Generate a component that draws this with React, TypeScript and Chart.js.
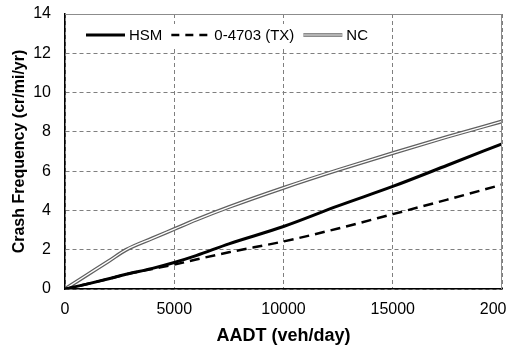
import React, { useEffect, useRef } from "react";
import { Chart, registerables } from "chart.js";

Chart.register(...registerables);

const AADT = [0, 1000, 2000, 2800, 4000, 5000, 6000, 7500, 10000, 12500, 15000, 17500, 20000];
const HSM = [0, 0.25, 0.52, 0.75, 1.05, 1.35, 1.7, 2.3, 3.18, 4.23, 5.22, 6.3, 7.39];
const TX = [0, 0.25, 0.52, 0.75, 1.02, 1.24, 1.5, 1.87, 2.42, 3.08, 3.81, 4.55, 5.31];
const NC = [0, 0.71, 1.42, 2.0, 2.58, 3.05, 3.52, 4.17, 5.15, 6.06, 6.92, 7.75, 8.53];
const LEGEND_LABELS = ["HSM", "0-4703 (TX)", "NC"];
const X_MIN = 0;
const X_MAX = 20000;
const X_STEP = 5000;
const Y_MIN = 0;
const Y_MAX = 14;
const Y_STEP = 2;

const FONT = "Arial, 'Liberation Sans', sans-serif";

const pts = (ys: number[]) => AADT.map((x, i) => ({ x, y: ys[i] }));

const frameAndLegend = {
  id: "frameAndLegend",
  afterDraw(chart: any) {
    const { ctx, chartArea } = chart;
    const { left, top, right, bottom } = chartArea;
    ctx.save();
    ctx.strokeStyle = "#8c8c8c";
    ctx.lineWidth = 1;
    ctx.setLineDash([]);
    ctx.beginPath();
    ctx.moveTo(left, top + 0.5);
    ctx.lineTo(right - 0.5, top + 0.5);
    ctx.lineTo(right - 0.5, bottom);
    ctx.stroke();

    const bx = left + 10;
    const by = top + 10;
    const cy = top + 21;
    ctx.fillStyle = "#ffffff";
    ctx.fillRect(bx, by, 300, 24);
    ctx.font = `15px ${FONT}`;
    ctx.textBaseline = "middle";
    ctx.textAlign = "left";
    let x = left + 21;
    const sample = 39;
    const styles = [
      { w: 3, dash: [] as number[], color: "#000" },
      { w: 2.5, dash: [8, 6], color: "#000" },
      { w: 3.5, dash: [] as number[], color: "#666", inner: true },
    ];
    LEGEND_LABELS.forEach((label, i) => {
      const s: any = styles[i];
      ctx.beginPath();
      ctx.setLineDash(s.dash);
      ctx.lineWidth = s.w;
      ctx.strokeStyle = s.color;
      ctx.moveTo(x, cy);
      ctx.lineTo(x + sample, cy);
      ctx.stroke();
      if (s.inner) {
        ctx.beginPath();
        ctx.lineWidth = 1.2;
        ctx.strokeStyle = "#fff";
        ctx.moveTo(x, cy);
        ctx.lineTo(x + sample, cy);
        ctx.stroke();
      }
      ctx.setLineDash([]);
      ctx.fillStyle = "#000";
      ctx.fillText(label, x + sample + 4, cy + 1);
      x += sample + 4 + ctx.measureText(label).width + 9;
    });
    ctx.restore();
  },
};

export default function App() {
  const ref = useRef<HTMLCanvasElement | null>(null);
  useEffect(() => {
    if (!ref.current) return;
    const chart = new Chart(ref.current, {
      type: "line",
      data: {
        datasets: [
          {
            label: LEGEND_LABELS[0],
            data: pts(HSM),
            borderColor: "#000",
            borderWidth: 3,
            pointRadius: 0,
            cubicInterpolationMode: "monotone",
            fill: false,
          },
          {
            label: LEGEND_LABELS[1],
            data: pts(TX),
            borderColor: "#000",
            borderWidth: 2.5,
            borderDash: [10, 6],
            pointRadius: 0,
            cubicInterpolationMode: "monotone",
            fill: false,
          },
          {
            label: LEGEND_LABELS[2] + " inner",
            data: pts(NC),
            borderColor: "#ffffff",
            borderWidth: 1.3,
            pointRadius: 0,
            cubicInterpolationMode: "monotone",
            fill: false,
          },
          {
            label: LEGEND_LABELS[2],
            data: pts(NC),
            borderColor: "#606060",
            borderWidth: 3.8,
            pointRadius: 0,
            cubicInterpolationMode: "monotone",
            fill: false,
          },
        ],
      },
      options: {
        animation: false,
        responsive: false,
        layout: { padding: { top: 14, left: 0, right: 22, bottom: 0 } },
        plugins: { legend: { display: false }, tooltip: { enabled: false } },
        scales: {
          x: {
            type: "linear",
            min: X_MIN,
            max: X_MAX,
            afterFit: (s: any) => { s.height = 58; s.paddingLeft = 0; s.paddingRight = 0; },
            ticks: { stepSize: X_STEP, color: "#000", font: { family: FONT, size: 16 }, padding: 11, maxRotation: 0, callback: (v: any) => String(v) },
            grid: { color: "#7f7f7f", lineWidth: 1, drawTicks: false, tickLength: 0 },
            border: { color: "#000", width: 1.5, dash: [4, 3] },
            title: { display: true, text: "AADT (veh/day)", color: "#000", font: { family: FONT, size: 18, weight: "bold" }, padding: { top: 2, bottom: 0 } },
          },
          y: {
            min: Y_MIN,
            max: Y_MAX,
            afterFit: (s: any) => { s.width = 65; s.paddingTop = 0; s.paddingBottom = 0; },
            ticks: { stepSize: Y_STEP, color: "#000", font: { family: FONT, size: 16 }, padding: 14 },
            grid: { color: "#7f7f7f", lineWidth: 1, drawTicks: false, tickLength: 0 },
            border: { color: "#000", width: 1.5, dash: [4, 3] },
            title: { display: true, text: "Crash Frequency (cr/mi/yr)", color: "#000", font: { family: FONT, size: 16, weight: "bold" }, padding: { top: 10, bottom: 2 } },
          },
        },
      },
      plugins: [frameAndLegend],
    } as any);
    return () => chart.destroy();
  }, []);
  return (
    <div style={{ position: "absolute", left: 0, top: 0, width: 507, height: 347, overflow: "hidden", background: "#fff" }}>
      <canvas ref={ref} width={524} height={347} style={{ width: 524, height: 347 }} />
    </div>
  );
}
